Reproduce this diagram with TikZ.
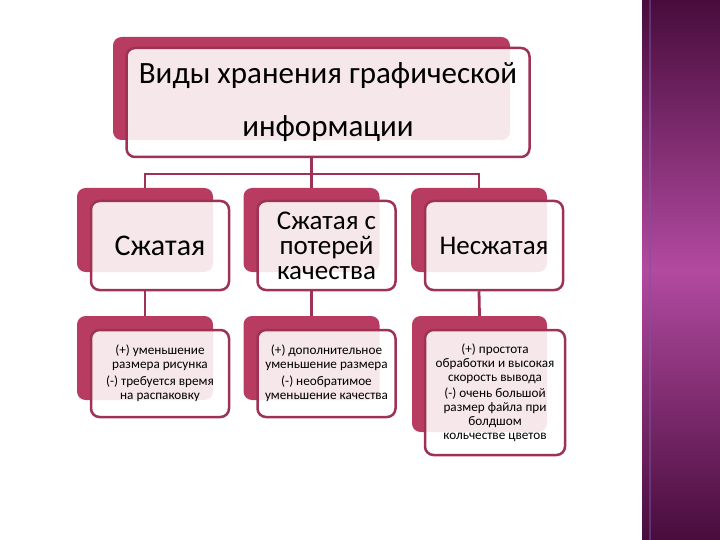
\documentclass[tikz,border=0pt]{standalone}
\usepackage{fontspec}
\setmainfont{Carlito}
\usetikzlibrary{positioning, calc}

\definecolor{crimson}{RGB}{184,60,98}
\definecolor{framered}{RGB}{158,50,84}
\definecolor{plumdark}{RGB}{72,12,60}
\definecolor{plumlight}{RGB}{178,74,160}

\begin{document}
\begin{tikzpicture}[
        x=1pt, y=-1pt,
        backbox/.style={fill=crimson, rounded corners=3mm, minimum width=#1},
        frontbox/.style={draw=framered, line width=2.5pt, fill=white, fill opacity=0.88, text opacity=1, rounded corners=3mm, align=center, inner sep=0pt, minimum width=#1},
        conn/.style={draw=framered, line width=2.8pt},
        topfont/.style={font=\fontsize{31}{53}\selectfont},
        kindfont/.style={font=\fontsize{#1}{25}\selectfont},
        notefont/.style={font=\fontsize{13.2}{14}\selectfont}
    ]

    \useasboundingbox (0,0) rectangle (720,540);

    % ========================================================
    % 1. PANEL KANAN
    % ========================================================
    \shade[top color=plumdark, bottom color=plumlight] (642,0) rectangle (720,270);
    \shade[top color=plumlight, bottom color=plumdark] (642,270) rectangle (720,540);
    \draw[plumlight!60!blue!50!gray, opacity=0.5, line width=1.5pt] (650,0) -- (650,540);

    % ========================================================
    % 2. KOTAK JUDUL
    % ========================================================
    \node[backbox=397pt, minimum height=103pt] (topback) at (311.5,88.5) {};
    \node[frontbox=403pt, minimum height=109pt, topfont] (topfront) at (328,102.5)
        {Виды хранения графической\\информации};

    % ========================================================
    % 3. JENIS (TINGKAT 2)
    % ========================================================
    \node[backbox=136pt, minimum height=84pt] (kback1) at (145,230) {};
    \node[frontbox=138pt, minimum height=89pt, kindfont=30] (kfront1) at (160,245.5) {Сжатая};

    \node[backbox=136pt, minimum height=84pt] (kback2) at (311.5,230) {};
    \node[frontbox=138pt, minimum height=89pt, kindfont=27] (kfront2) at (326.5,245.5)
        {Сжатая с\\потерей\\качества};

    \node[backbox=136pt, minimum height=84pt] (kback3) at (479,230) {};
    \node[frontbox=138pt, minimum height=89pt, kindfont=27] (kfront3) at (494,245.5) {Несжатая};

    % ========================================================
    % 4. CATATAN (TINGKAT 3)
    % ========================================================
    \node[backbox=136pt, minimum height=84pt] (pback1) at (145,358) {};
    \node[frontbox=138pt, minimum height=87pt, notefont] (pfront1) at (160,373.5)
        {(+) уменьшение\\размера рисунка\\[3pt](-) требуется время\\на распаковку};

    \node[backbox=136pt, minimum height=84pt] (pback2) at (311.5,358) {};
    \node[frontbox=138pt, minimum height=87pt, notefont] (pfront2) at (326.5,373.5)
        {(+) дополнительное\\уменьшение размера\\[3pt](-) необратимое\\уменьшение качества};

    \node[backbox=135pt, minimum height=116pt] (pback3) at (479.5,374) {};
    \node[frontbox=140pt, minimum height=125pt, notefont] (pfront3) at (495,392.5)
        {(+) простота\\обработки и высокая\\скорость вывода\\[2pt](-) очень большой\\размер файла при\\болдшом\\кольчестве цветов};

    % Garis penghubung
    \coordinate (bus) at (311.5,174);
    \draw[conn] (topback |- topfront.south) -- (bus);
    \draw[conn] (kback1.north) |- (bus) -| (kback3.north);
    \draw[conn] (bus) -- (kback2.north);
    \draw[conn] (kback1 |- kfront1.south) -- (pback1.north);
    \draw[conn] (kback2 |- kfront2.south) -- (pback2.north);
    \draw[conn] (kback3 |- kfront3.south) -- (pback3.north);

\end{tikzpicture}
\end{document}
